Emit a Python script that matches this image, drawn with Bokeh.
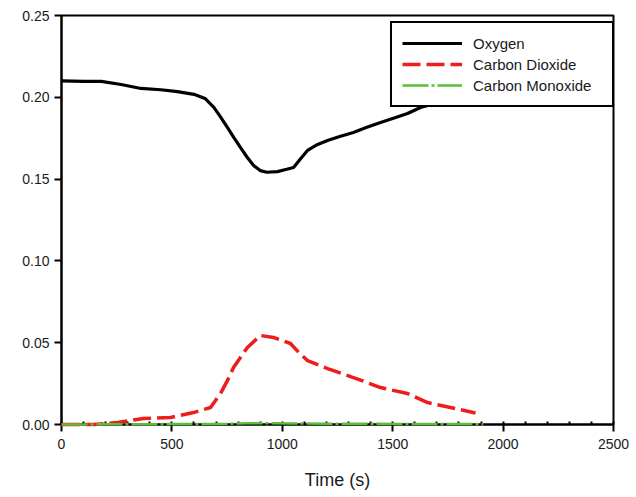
from bokeh.plotting import figure
from bokeh.models import Range1d, FixedTicker, NumeralTickFormatter, Legend, LegendItem
from bokeh.embed import file_html
from bokeh.resources import INLINE

# ---- data ----
o2_time = [0, 100, 180, 270, 360, 450, 525, 600, 650, 690, 720, 752, 780, 811, 840, 870,
           900, 930, 978, 1020, 1051, 1080, 1114, 1160, 1205, 1260, 1322, 1380, 1445,
           1510, 1567, 1626, 1700, 1800, 1900]
o2_vals = [0.2100, 0.2097, 0.2097, 0.2078, 0.2054, 0.2046, 0.2035, 0.2018, 0.1993, 0.1938,
           0.1880, 0.1815, 0.1755, 0.1693, 0.1635, 0.1583, 0.1552, 0.1542, 0.1546, 0.1560,
           0.1571, 0.1620, 0.1675, 0.1712, 0.1736, 0.1760, 0.1785, 0.1815, 0.1846,
           0.1875, 0.1901, 0.1938, 0.1965, 0.1985, 0.2000]

co2_time = [0, 145, 254, 371, 494, 598, 675, 720, 750, 779, 842, 901, 960, 1037, 1075,
            1114, 1205, 1322, 1445, 1567, 1658, 1762, 1875]
co2_vals = [0.0000, 0.0000, 0.0012, 0.0037, 0.0043, 0.0073, 0.0104, 0.0189, 0.0265, 0.0348,
            0.0471, 0.0544, 0.0532, 0.0495, 0.0440, 0.0391, 0.0342, 0.0287, 0.0226,
            0.0189, 0.0134, 0.0104, 0.0070]

co_time = [0, 200, 400, 600, 750, 850, 950, 1050, 1200, 1400, 1600, 1800, 1910]
co_vals = [0.0000, 0.0001, 0.0002, 0.0003, 0.0005, 0.0007, 0.0007, 0.0006, 0.0005,
           0.0004, 0.0003, 0.0003, 0.0002]

x_ticks = [0, 500, 1000, 1500, 2000, 2500]
y_ticks = [0.0, 0.05, 0.10, 0.15, 0.20, 0.25]

FONT = "Liberation Sans"

p = figure(width=636, height=497, output_backend="svg", toolbar_location=None,
           x_range=Range1d(0, 2500), y_range=Range1d(0, 0.25),
           min_border_left=61, min_border_right=23, min_border_top=15, min_border_bottom=73)
p.grid.visible = False
p.outline_line_color = "black"
p.outline_line_alpha = 1.0
p.outline_line_width = 2
p.background_fill_color = "white"
p.border_fill_color = "white"

# axes
p.xaxis.ticker = FixedTicker(ticks=x_ticks, minor_ticks=list(range(0, 2501, 100)))
p.yaxis.ticker = FixedTicker(ticks=y_ticks, minor_ticks=[])
p.yaxis.formatter = NumeralTickFormatter(format="0.00")
for ax in (p.xaxis, p.yaxis):
    ax.axis_line_color = "black"
    ax.axis_line_width = 2
    ax.major_tick_line_color = "black"
    ax.major_tick_line_width = 2
    ax.major_tick_out = 7
    ax.major_tick_in = 0
    ax.major_label_text_font = FONT
    ax.major_label_text_font_size = "14px"
    ax.major_label_text_color = "#1a1a1a"
p.xaxis.minor_tick_in = 3
p.xaxis.minor_tick_out = 0
p.xaxis.minor_tick_line_color = "black"
p.xaxis.minor_tick_line_width = 2
p.yaxis.minor_tick_line_color = None
p.xaxis.major_label_standoff = 7
p.yaxis.major_label_standoff = 5
p.xaxis.axis_label = "Time (s)"
p.xaxis.axis_label_text_font = FONT
p.xaxis.axis_label_text_font_size = "18px"
p.xaxis.axis_label_text_font_style = "normal"
p.xaxis.axis_label_text_color = "#1a1a1a"
p.xaxis.axis_label_standoff = 18

# series
r_o2 = p.line(o2_time, o2_vals, line_color="black", line_width=3.2)
r_co2 = p.line(co2_time, co2_vals, line_color="#ee1c1c", line_width=3.5, line_dash="18 6",
               level="overlay")
r_co = p.line(co_time, co_vals, line_color="#5cbf3a", line_width=2.5, line_dash="26 3 3 3",
              level="overlay")

legend = Legend(items=[LegendItem(label="Oxygen", renderers=[r_o2]),
                       LegendItem(label="Carbon Dioxide", renderers=[r_co2]),
                       LegendItem(label="Carbon Monoxide", renderers=[r_co])],
                location=(329, 317))
legend.margin = 0
legend.padding = 10
legend.spacing = 1
legend.glyph_width = 60
legend.glyph_height = 20
legend.label_height = 20
legend.label_width = 129
legend.label_standoff = 11
legend.label_text_font = FONT
legend.label_text_font_size = "15px"
legend.label_text_color = "#1a1a1a"
legend.border_line_color = "black"
legend.border_line_alpha = 1.0
legend.border_line_width = 2
legend.background_fill_color = "white"
legend.background_fill_alpha = 1.0
p.add_layout(legend, "center")

open("out.html", "w").write(file_html(p, INLINE))
